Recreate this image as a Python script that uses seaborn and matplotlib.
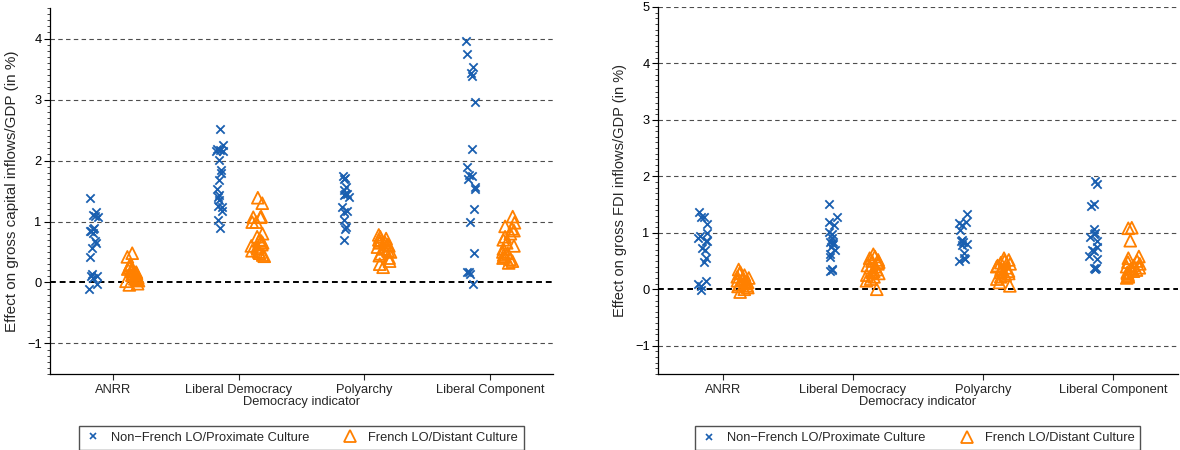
import numpy as np
import pandas as pd
import matplotlib
matplotlib.use("Agg")
import matplotlib.pyplot as plt
from matplotlib.lines import Line2D
from matplotlib.ticker import MultipleLocator
import seaborn as sns

# Democracy indicators on the horizontal axis
categories = ["ANRR", "Liberal Democracy", "Polyarchy", "Liberal Component"]
groups = ["Non\u2212French LO/Proximate Culture", "French LO/Distant Culture"]

# Estimated effects on gross capital inflows/GDP (in %), one list per indicator
capital_proximate = [
    [1.38, 1.15, 1.10, 1.09, 1.08, 0.90, 0.87, 0.84, 0.84, 0.81, 0.68, 0.64, 0.57, 0.41, 0.14, 0.11, 0.11, 0.08, -0.03, -0.10],
    [2.51, 2.25, 2.19, 2.17, 2.16, 2.15, 2.01, 1.84, 1.79, 1.68, 1.54, 1.44, 1.41, 1.36, 1.26, 1.23, 1.18, 1.02, 0.90],
    [1.74, 1.72, 1.70, 1.57, 1.52, 1.45, 1.45, 1.43, 1.40, 1.23, 1.17, 1.15, 1.03, 0.91, 0.87, 0.70],
    [3.96, 3.74, 3.53, 3.44, 3.38, 2.96, 2.19, 1.89, 1.77, 1.74, 1.70, 1.56, 1.54, 1.21, 0.99, 0.49, 0.17, 0.17, 0.14, -0.02],
]
capital_distant = [
    [0.48, 0.42, 0.30, 0.28, 0.25, 0.22, 0.20, 0.18, 0.17, 0.15, 0.13, 0.12, 0.10, 0.08, 0.06, 0.05, 0.03, 0.02, -0.02, -0.04],
    [1.39, 1.30, 1.08, 1.07, 1.07, 0.99, 0.99, 0.80, 0.75, 0.70, 0.68, 0.65, 0.62, 0.60, 0.58, 0.55, 0.52, 0.50, 0.48, 0.45, 0.43],
    [0.78, 0.75, 0.72, 0.70, 0.68, 0.66, 0.65, 0.62, 0.60, 0.58, 0.55, 0.52, 0.50, 0.47, 0.44, 0.40, 0.35, 0.30, 0.25],
    [1.08, 0.98, 0.92, 0.88, 0.85, 0.80, 0.75, 0.70, 0.65, 0.60, 0.55, 0.50, 0.48, 0.45, 0.42, 0.40, 0.38, 0.35, 0.32],
]

# Estimated effects on gross FDI inflows/GDP (in %)
fdi_proximate = [
    [1.36, 1.28, 1.28, 1.15, 1.00, 0.95, 0.91, 0.86, 0.85, 0.73, 0.70, 0.55, 0.49, 0.14, 0.10, 0.05, -0.01],
    [1.51, 1.28, 1.20, 1.14, 1.02, 0.98, 0.90, 0.84, 0.83, 0.80, 0.75, 0.69, 0.63, 0.58, 0.36, 0.35, 0.33],
    [1.34, 1.20, 1.17, 1.14, 1.05, 0.87, 0.86, 0.83, 0.80, 0.79, 0.64, 0.55, 0.54, 0.50],
    [1.92, 1.87, 1.51, 1.48, 1.06, 1.00, 0.98, 0.92, 0.85, 0.75, 0.70, 0.68, 0.59, 0.53, 0.37, 0.37, 0.36],
]
fdi_distant = [
    [0.35, 0.30, 0.28, 0.25, 0.22, 0.20, 0.18, 0.16, 0.15, 0.13, 0.12, 0.10, 0.08, 0.06, 0.05, 0.03, 0.00, -0.05],
    [0.62, 0.58, 0.55, 0.52, 0.50, 0.48, 0.45, 0.42, 0.40, 0.38, 0.35, 0.32, 0.30, 0.28, 0.25, 0.22, 0.18, 0.15, 0.00],
    [0.55, 0.52, 0.50, 0.47, 0.45, 0.42, 0.40, 0.38, 0.36, 0.34, 0.32, 0.30, 0.28, 0.25, 0.22, 0.18, 0.12, 0.06],
    [1.09, 1.08, 0.86, 0.58, 0.55, 0.50, 0.48, 0.45, 0.42, 0.40, 0.38, 0.36, 0.34, 0.32, 0.30, 0.28, 0.25, 0.22, 0.20],
]

BLUE = "#1a5fb0"
ORANGE = "#ff8000"

sns.set_style("ticks")
plt.rcParams["font.family"] = ["Liberation Sans", "DejaVu Sans"]
plt.rcParams["axes.unicode_minus"] = True
np.random.seed(7)

FS = 9.3


def long_table(series):
    rows = []
    for i, vals in enumerate(series):
        for v in vals:
            rows.append({"pos": i + 1, "effect": v})
    return pd.DataFrame(rows)


def panel(ax, proximate, distant, ylabel, ymax, ylabel_size):
    # side-by-side strips for the two country groups around each indicator
    for series, shift, jit, style in [
        (proximate, -0.155, 0.035, dict(marker="x", color=BLUE, size=6, linewidth=1.3)),
        (distant, 0.155, 0.055, dict(marker="^", color=ORANGE, edgecolor=ORANGE,
                                     facecolors="none", size=8.5, linewidth=1.3)),
    ]:
        df = long_table(series)
        df["x"] = df["pos"] + shift
        sns.stripplot(data=df, x="x", y="effect", native_scale=True, orient="v",
                      jitter=jit, ax=ax, zorder=3, **style)

    ax.set_xlim(0.5, 4.5)
    ax.set_ylim(-1.5, ymax)
    ax.set_xticks(range(1, len(categories) + 1))
    ax.set_xticklabels(categories, fontsize=FS)
    yt = list(range(-1, int(ymax) + 1))
    ax.set_yticks(yt)
    ax.set_yticklabels([f"{t}".replace("-", "\u2212") for t in yt], fontsize=FS)
    ax.yaxis.set_minor_locator(MultipleLocator(0.1))
    ax.tick_params(axis="y", which="major", length=4, width=0.8, pad=2, colors="black")
    ax.tick_params(axis="y", which="minor", length=2, width=0.6)
    ax.tick_params(axis="x", which="major", length=4, width=0.8, pad=3)

    for t in yt:
        if t == 0:
            ax.axhline(0, color="black", lw=1.4, ls=(0, (3, 2)), zorder=1)
        else:
            ax.axhline(t, color="0.3", lw=0.8, ls=(0, (4, 3)), zorder=1)

    sns.despine(ax=ax)
    for side in ("left", "bottom"):
        ax.spines[side].set_color("black")
        ax.spines[side].set_linewidth(0.9)

    ax.set_xlabel("Democracy indicator", fontsize=FS, labelpad=0)
    ax.set_ylabel(ylabel, fontsize=ylabel_size, labelpad=6)

    handles = [
        Line2D([], [], ls="none", marker="x", color=BLUE, markersize=5, mew=1.2),
        Line2D([], [], ls="none", marker="^", color=ORANGE, mfc="none",
               markersize=8, mew=1.3),
    ]
    leg = ax.legend(handles, groups, loc="upper center", bbox_to_anchor=(0.5, -0.125),
                    ncol=2, fontsize=FS, frameon=True, fancybox=False,
                    handlelength=1.2, handletextpad=0.8, columnspacing=2.6,
                    borderpad=0.45)
    leg.get_frame().set_edgecolor("0.15")
    leg.get_frame().set_linewidth(1.0)


fig = plt.figure(figsize=(11.8, 4.5), dpi=100)
ax1 = fig.add_axes([0.0424, 0.169, 0.4263, 0.813])
ax2 = fig.add_axes([0.5576, 0.169, 0.4407, 0.8155])

panel(ax1, capital_proximate, capital_distant,
      "Effect on gross capital inflows/GDP (in %)", 4.5, 11)
panel(ax2, fdi_proximate, fdi_distant,
      "Effect on gross FDI inflows/GDP (in %)", 5.0, 10.5)

fig.savefig("out.png", dpi=100)
